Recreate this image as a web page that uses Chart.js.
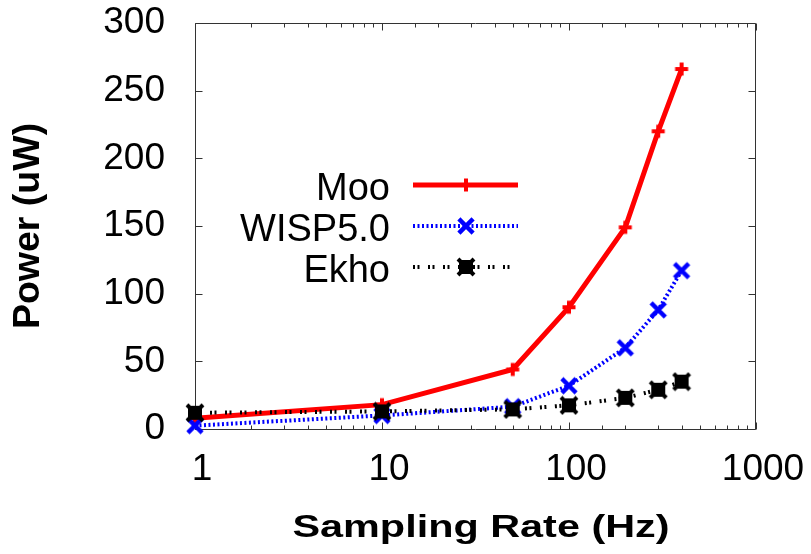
<!DOCTYPE html>
<html>
<head>
<meta charset="utf-8">
<title>Power vs Sampling Rate</title>
<script src="https://cdn.jsdelivr.net/npm/chart.js@4.4.0/dist/chart.umd.min.js"></script>
<style>
  html, body { margin: 0; padding: 0; background: #ffffff; }
  #wrap { width: 811px; height: 554px; }
</style>
</head>
<body>
<div id="wrap"><canvas id="c" width="811" height="554"></canvas></div>
<script>
// Sampling rates (Hz) and measured power (uW) per platform
const rates = [1, 10, 50, 100, 200, 300, 400];
const mooPower = [8, 18, 44, 90, 149, 220, 266];
const wispPower = [2.5, 10, 16.5, 32, 60, 88, 117];
const ekhoPower = [12, 13, 14.5, 17.5, 23, 29, 35];
const seriesNames = ['Moo', 'WISP5.0', 'Ekho'];
const xTickLabels = [1, 10, 100, 1000];
const yTickValues = [0, 50, 100, 150, 200, 250, 300];

const FONT = '"Liberation Sans", Arial, Helvetica, sans-serif';

// Point glyphs drawn once onto small canvases
function makeMarker(kind, color) {
  const c = document.createElement('canvas');
  c.width = 20; c.height = 20;
  const g = c.getContext('2d');
  g.strokeStyle = color; g.fillStyle = color;
  if (kind === 'plus') {
    g.lineWidth = 4;
    g.beginPath();
    g.moveTo(3.5, 10); g.lineTo(16.5, 10);
    g.moveTo(10, 3.5); g.lineTo(10, 16.5);
    g.stroke();
  } else if (kind === 'cross') {
    g.lineWidth = 4.5;
    g.lineCap = 'square';
    g.beginPath();
    g.moveTo(4.5, 4.5); g.lineTo(15.5, 15.5);
    g.moveTo(15.5, 4.5); g.lineTo(4.5, 15.5);
    g.stroke();
  } else {
    g.fillRect(3, 3, 14, 14);
    g.lineWidth = 4;
    g.beginPath();
    g.moveTo(2, 2); g.lineTo(18, 18);
    g.moveTo(18, 2); g.lineTo(2, 18);
    g.stroke();
  }
  return c;
}

const mooMarker = makeMarker('plus', '#ff0000');
const wispMarker = makeMarker('cross', '#0000ff');
const ekhoMarker = makeMarker('blob', '#000000');

function toPoints(values) {
  return rates.map((r, i) => ({ x: r, y: values[i] }));
}

// Frame with inward ticks on all four sides (gnuplot style)
const framePlugin = {
  id: 'frame',
  beforeDatasetsDraw(chart) {
    const { ctx, chartArea: a, scales } = chart;
    const L = Math.round(a.left) + 0.5, R = Math.round(a.right) - 0.5;
    const T = Math.round(a.top) + 0.5, B = Math.round(a.bottom) + 0.5;
    ctx.save();
    ctx.strokeStyle = '#333333';
    ctx.lineWidth = 1;
    ctx.beginPath();
    ctx.rect(L, T, R - L, B - T);
    ctx.stroke();
    ctx.beginPath();
    scales.x.ticks.forEach(t => {
      const px = Math.round(scales.x.getPixelForValue(t.value)) + 0.5;
      const len = xTickLabels.includes(t.value) ? 7 : 4;
      ctx.moveTo(px, B); ctx.lineTo(px, B - len);
      ctx.moveTo(px, T); ctx.lineTo(px, T + len);
    });
    yTickValues.forEach(v => {
      const py = Math.round(scales.y.getPixelForValue(v)) + 0.5;
      ctx.moveTo(L, py); ctx.lineTo(L + 7, py);
      ctx.moveTo(R, py); ctx.lineTo(R - 7, py);
    });
    ctx.stroke();
    ctx.restore();
  }
};

// Key inside the plot, plus the stretched horizontal axis caption
const keyPlugin = {
  id: 'key',
  afterDraw(chart) {
    const { ctx } = chart;
    ctx.save();
    chart.data.datasets.forEach((ds, i) => {
      const rowY = 185 + i * 41;
      ctx.font = '38px ' + FONT;
      ctx.fillStyle = '#000000';
      ctx.textAlign = 'right';
      ctx.textBaseline = 'alphabetic';
      ctx.fillText(ds.label, 390, rowY + 15);
      ctx.strokeStyle = ds.borderColor;
      ctx.lineWidth = ds.borderWidth;
      ctx.setLineDash(ds.borderDash || []);
      ctx.beginPath();
      ctx.moveTo(413, rowY); ctx.lineTo(518, rowY);
      ctx.stroke();
      ctx.setLineDash([]);
      const img = ds.pointStyle;
      ctx.drawImage(img, 466 - img.width / 2, rowY - img.height / 2);
    });
    ctx.translate(481, 537);
    ctx.scale(1.335, 1);
    ctx.font = 'bold 31px ' + FONT;
    ctx.fillStyle = '#000000';
    ctx.textAlign = 'center';
    ctx.textBaseline = 'alphabetic';
    ctx.fillText('Sampling Rate (Hz)', 0, 0);
    ctx.restore();
  }
};

new Chart(document.getElementById('c'), {
  type: 'line',
  data: {
    datasets: [
      {
        label: seriesNames[0], data: toPoints(mooPower),
        borderColor: '#ff0000', borderWidth: 5, borderDash: [],
        pointStyle: mooMarker, clip: false, order: 2
      },
      {
        label: seriesNames[1], data: toPoints(wispPower),
        borderColor: '#0000ff', borderWidth: 4, borderDash: [2, 2.5],
        pointStyle: wispMarker, clip: false, order: 1
      },
      {
        label: seriesNames[2], data: toPoints(ekhoPower),
        borderColor: '#000000', borderWidth: 4, borderDash: [2, 2.5, 2, 8.5],
        pointStyle: ekhoMarker, clip: false, order: 0
      }
    ]
  },
  options: {
    responsive: false,
    animation: false,
    devicePixelRatio: 1,
    events: [],
    layout: { padding: { left: 0, top: 23, right: 55, bottom: 0 } },
    elements: { line: { tension: 0, fill: false }, point: { radius: 8 } },
    plugins: { legend: { display: false }, tooltip: { enabled: false } },
    scales: {
      x: {
        type: 'logarithmic',
        min: 1, max: 1000,
        grid: { display: false },
        border: { display: false },
        afterFit(s) { s.height = 125; s.paddingLeft = 0; s.paddingRight = 0; },
        ticks: {
          autoSkip: false, maxRotation: 0, minRotation: 0,
          padding: 11, labelOffset: 7,
          color: '#000000',
          font: { family: FONT, size: 37 },
          callback: v => xTickLabels.includes(v) ? String(v) : ''
        }
      },
      y: {
        min: 0, max: 300,
        grid: { display: false },
        border: { display: false },
        afterFit(s) { s.width = 195; s.paddingTop = 0; s.paddingBottom = 0; },
        ticks: {
          stepSize: 50, padding: 22,
          color: '#000000',
          font: { family: FONT, size: 37 }
        },
        title: {
          display: true, text: 'Power (uW)', color: '#000000',
          font: { family: FONT, size: 37.5, weight: 'bold' },
          padding: { top: 6, bottom: 0 }
        }
      }
    }
  },
  plugins: [framePlugin, keyPlugin]
});
</script>
</body>
</html>
